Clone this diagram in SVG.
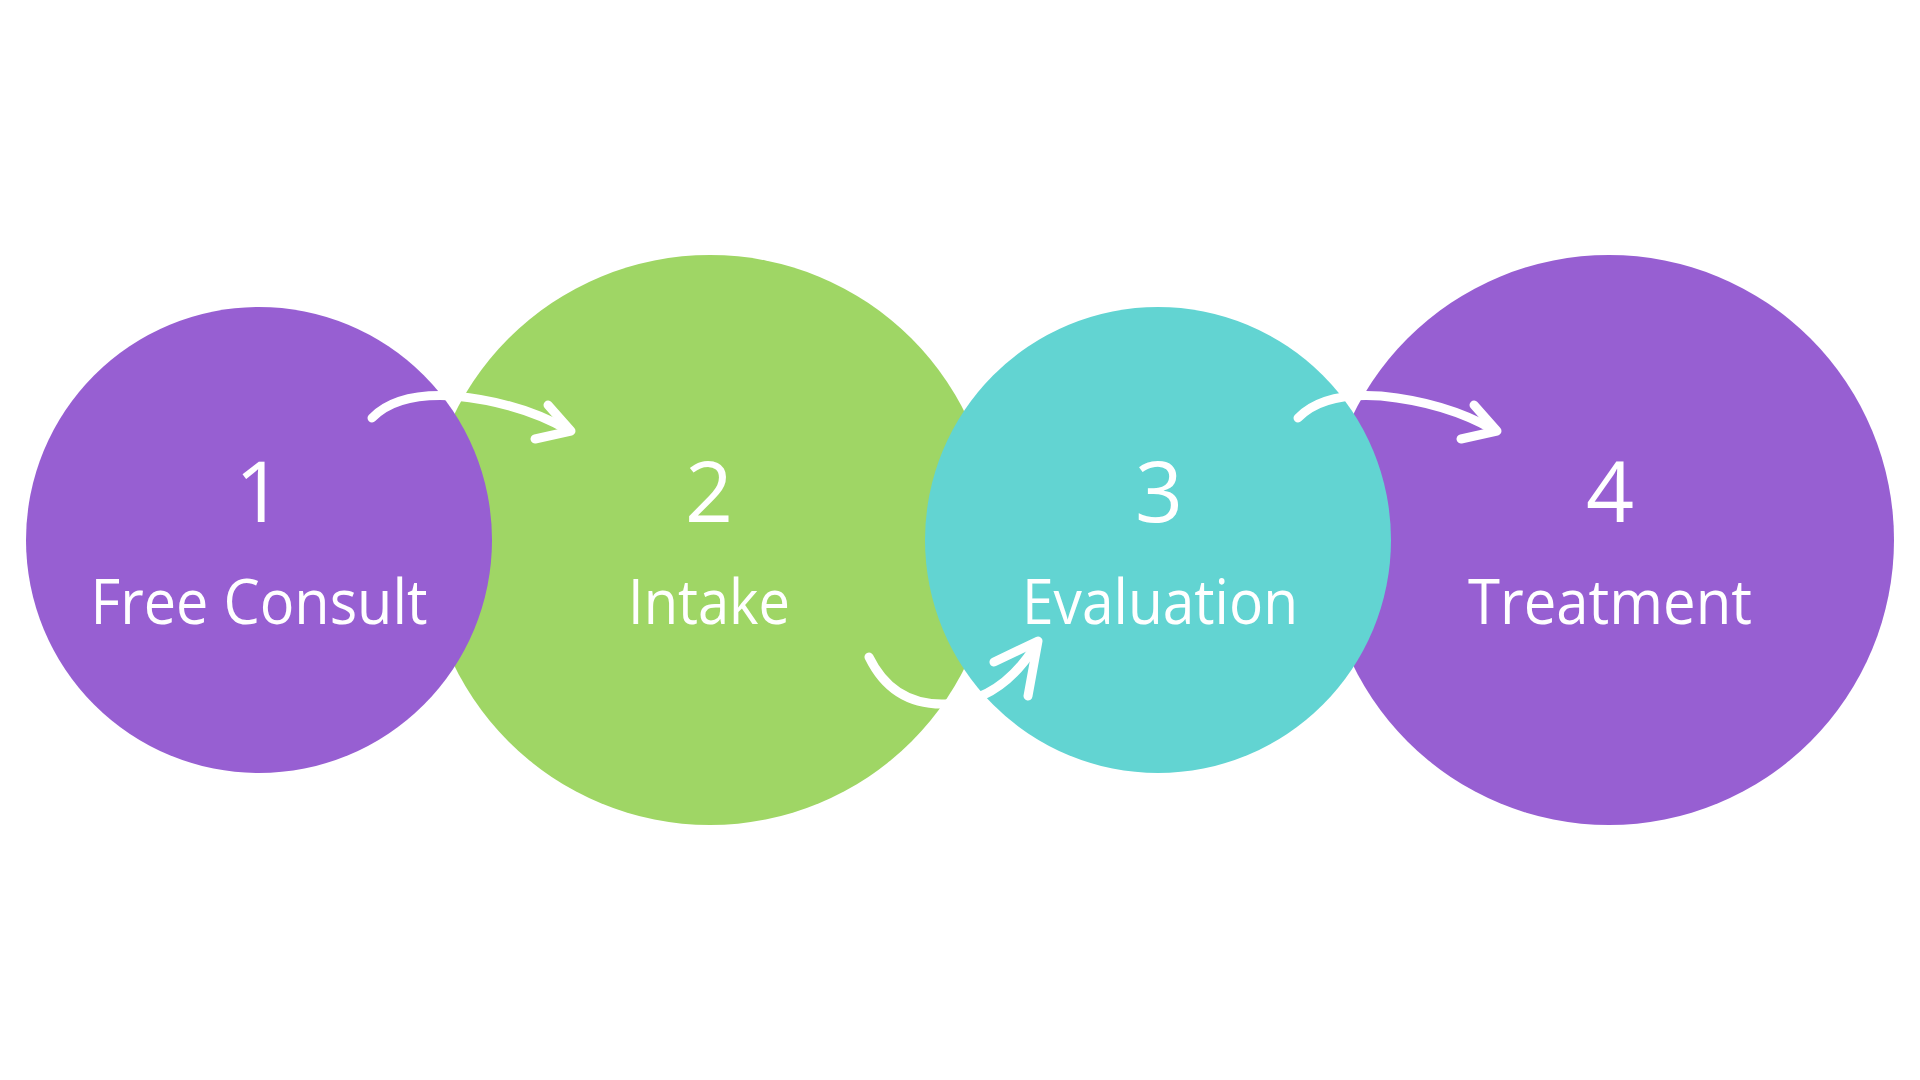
<svg xmlns="http://www.w3.org/2000/svg" width="1920" height="1080" viewBox="0 0 1920 1080">
<style>
.purple{fill:#975fd2}
.green{fill:#9fd665}
.teal{fill:#62d4d2}
.num{font-family:"Open Sans","Noto Sans","Liberation Sans",sans-serif;font-size:84px;font-weight:500;fill:#ffffff;text-anchor:middle;font-variant-ligatures:none}
.lbl{font-family:"Open Sans","Noto Sans","Liberation Sans",sans-serif;font-size:63px;font-weight:500;fill:#ffffff;text-anchor:middle;font-variant-ligatures:none}
.arr{fill:none;stroke:#ffffff;stroke-width:9;stroke-linecap:round;stroke-linejoin:round}
</style>
<rect width="1920" height="1080" fill="#ffffff"/>
<g id="node2">
<circle class="green" cx="710" cy="540" r="285"/>
</g>
<g id="node4">
<circle class="purple" cx="1609" cy="540" r="285"/>
</g>
<g id="node1">
<circle class="purple" cx="259" cy="540" r="233"/>
</g>
<g id="node3">
<circle class="teal" cx="1158" cy="540" r="233"/>
</g>
<g id="labels">
<text class="num" x="259" y="522">1</text>
<text class="lbl" x="259" y="624" textLength="337" lengthAdjust="spacingAndGlyphs">Free Consult</text>
<text class="num" x="709" y="522">2</text>
<text class="lbl" x="709" y="624" textLength="162" lengthAdjust="spacingAndGlyphs">Intake</text>
<text class="num" x="1159" y="522">3</text>
<text class="lbl" x="1160" y="624" textLength="276" lengthAdjust="spacingAndGlyphs">Evaluation</text>
<text class="num" x="1610" y="522">4</text>
<text class="lbl" x="1610" y="624" textLength="284" lengthAdjust="spacingAndGlyphs">Treatment</text>
</g>
<g id="connectors">
<path class="arr" d="M372 418 C392 397 425 394 455 396 C495 400 535 411 568 430"/>
<path class="arr" d="M548 405 L571 431 L535 439"/>
<path class="arr" d="M1298 418 C1318 397 1351 394 1381 396 C1421 400 1461 411 1494 430"/>
<path class="arr" d="M1474 405 L1497 431 L1461 439"/>
<path class="arr" d="M869 657 C885 690 910 705 945 704 C978 703 1008 688 1034 648"/>
<path class="arr" d="M994 662 L1038 641 L1028 696"/>
</g>
</svg>
